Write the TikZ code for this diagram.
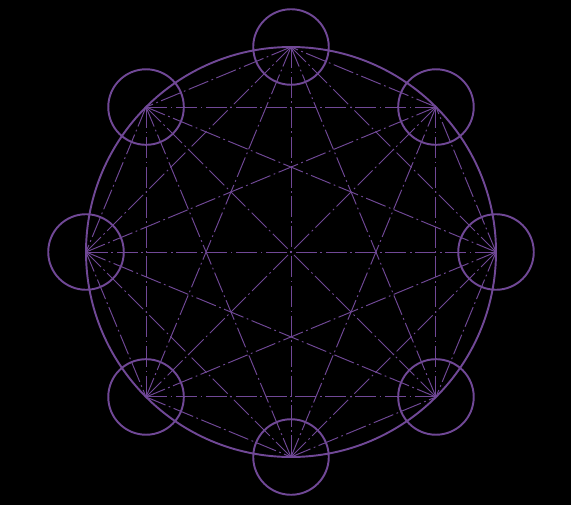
\documentclass[tikz,border=0pt]{standalone}
\usepackage{tikz}

\definecolor{ringpurple}{RGB}{112,72,150}

\tikzset{
  ring/.style={draw=ringpurple, line width=1.1pt},
  chord/.style={draw=ringpurple, line width=0.55pt,
    dash pattern=on 12pt off 2pt on 1pt off 2pt},
  port/.style={circle, draw=ringpurple, line width=1.1pt, minimum size=43pt, inner sep=0pt}
}

\begin{document}
\begin{tikzpicture}[x=0.02cm,y=0.02cm]

  % background
  \fill[black] (0,0) rectangle (571,505);
  \useasboundingbox (0,0) rectangle (571,505);

  % ========== Outer ring ==========
  \coordinate (centre) at (291,253);
  \draw[ring] (centre) circle (205);

  % points on the ring
  \foreach \i in {0,...,7}{
    \coordinate (p\i) at ([shift={(\i*45:205)}]centre);
  }

  % ========== Chords ==========
  \foreach \i in {0,...,6}{
    \pgfmathtruncatemacro{\next}{\i+1}
    \foreach \j in {\next,...,7}{
      \draw[chord] (p\i) -- (p\j);
    }
  }

  % ========== Small circles ==========
  \foreach \i in {0,...,7}{
    \node[port] (c\i) at (p\i) {};
  }

\end{tikzpicture}
\end{document}
